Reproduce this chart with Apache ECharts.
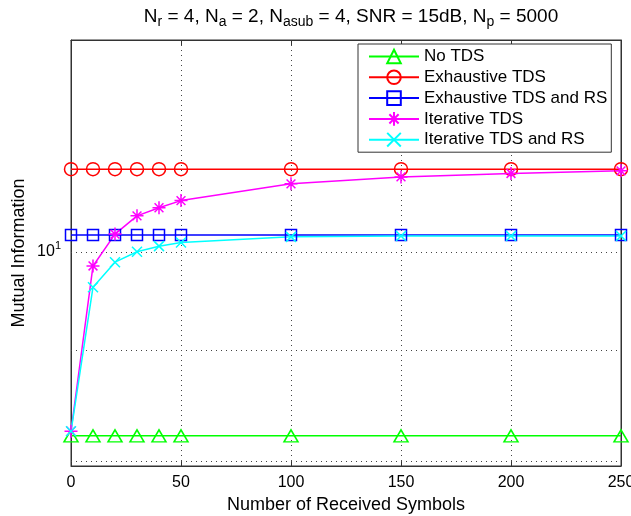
<!DOCTYPE html>
<html>
<head>
<meta charset="utf-8">
<script src="https://cdn.jsdelivr.net/npm/echarts@6/dist/echarts.min.js"></script>
<style>
html,body{margin:0;padding:0;background:#fff;}
#chart{width:631px;height:516px;}
</style>
</head>
<body>
<div id="chart"></div>
<script>
// ---- data ----
const xValues = [0, 10, 20, 30, 40, 50, 100, 150, 200, 250];
const noTDS = [8.22, 8.22, 8.22, 8.22, 8.22, 8.22, 8.22, 8.22, 8.22, 8.22];
const exhaustiveTDS = [10.92, 10.92, 10.92, 10.92, 10.92, 10.92, 10.92, 10.92, 10.92, 10.92];
const exhaustiveTDSRS = [10.18, 10.18, 10.18, 10.18, 10.18, 10.18, 10.18, 10.18, 10.18, 10.18];
const iterativeTDS = [8.26, 9.85, 10.19, 10.39, 10.48, 10.56, 10.75, 10.83, 10.87, 10.90];
const iterativeTDSRS = [8.26, 9.63, 9.89, 10.00, 10.06, 10.10, 10.16, 10.17, 10.17, 10.17];
const seriesNames = ['No TDS', 'Exhaustive TDS', 'Exhaustive TDS and RS', 'Iterative TDS', 'Iterative TDS and RS'];
const yGridValues = [8, 9, 10];
const yLabelValue = 10;
const yMin = 7.96, yMax = 12.53;
const xMin = 0, xMax = 250, xInterval = 50;

const FONT = "'Liberation Sans', Arial, Helvetica, sans-serif";
const asterisk = 'path://M5,0L5,10M0,5L10,5M1.6,1.6L8.4,8.4M8.4,1.6L1.6,8.4';
const cross = 'path://M0,0L10,10M10,0L0,10';

function mk(name, vals, color, symbol, size) {
  return {
    type: 'line', name: name,
    data: xValues.map((x, i) => [x, vals[i]]),
    symbol: symbol, symbolSize: size, showSymbol: true,
    lineStyle: {color: color, width: 1.5},
    itemStyle: {color: 'transparent', borderColor: color, borderWidth: 1.5},
    emphasis: {disabled: true},
    animation: false, z: 2
  };
}

const series = [
  mk(seriesNames[0], noTDS, '#00ff00', 'triangle', [14, 12]),
  mk(seriesNames[1], exhaustiveTDS, '#ff0000', 'circle', 13),
  mk(seriesNames[2], exhaustiveTDSRS, '#0000ff', 'rect', 11),
  mk(seriesNames[3], iterativeTDS, '#ff00ff', asterisk, 13),
  mk(seriesNames[4], iterativeTDSRS, '#00ffff', cross, 10)
];
series[0].markLine = {
  silent: true, symbol: ['none', 'none'], z: 1, animation: false,
  lineStyle: {color: '#444', type: [1, 4], width: 1},
  label: {show: false},
  emphasis: {disabled: true},
  data: yGridValues.map(v => ({
    yAxis: v,
    label: v === yLabelValue ? {
      show: true, position: 'start', distance: 10,
      formatter: '{b|10}{p|1}',
      rich: {
        b: {fontSize: 16, color: '#000', fontFamily: FONT, lineHeight: 22},
        p: {fontSize: 11, color: '#000', fontFamily: FONT, verticalAlign: 'top', lineHeight: 11}
      }
    } : {show: false}
  }))
};

const chart = echarts.init(document.getElementById('chart'), null, {renderer: 'canvas'});
chart.setOption({
  animation: false,
  backgroundColor: '#fff',
  title: {
    text: '{n|N}{s|r}{n| = 4, N}{s|a}{n| = 2, N}{s|asub}{n| = 4, SNR = 15dB, N}{s|p}{n| = 5000}',
    left: 346, top: 0, textAlign: 'center',
    textStyle: {
      fontWeight: 'normal',
      rich: {
        n: {fontSize: 19, fontFamily: FONT, fontWeight: 'normal', color: '#000', lineHeight: 24},
        s: {fontSize: 14, fontFamily: FONT, fontWeight: 'normal', color: '#000', verticalAlign: 'bottom', lineHeight: 14}
      }
    }
  },
  legend: {
    data: seriesNames, orient: 'vertical', left: 358, top: 44,
    padding: [4, 4, 4, 10], itemWidth: 50, itemHeight: 17, itemGap: 3.8,
    backgroundColor: '#fff', borderColor: '#333', borderWidth: 1, borderRadius: 0,
    selectedMode: false,
    textStyle: {fontSize: 17, fontFamily: FONT, color: '#000', lineHeight: 17}
  },
  grid: {left: 71, right: 10, top: 40, bottom: 50, show: true, borderColor: '#333', borderWidth: 1, backgroundColor: '#fff', outerBoundsMode: 'none', containLabel: false},
  xAxis: [{
    type: 'value', min: xMin, max: xMax, interval: xInterval, position: 'bottom',
    axisLine: {show: true, onZero: false, lineStyle: {color: '#333', width: 1}},
    axisTick: {show: true, inside: true, length: 5, lineStyle: {color: '#333'}},
    axisLabel: {fontSize: 16, color: '#000', margin: 9, fontFamily: FONT},
    splitLine: {show: true, lineStyle: {color: '#444', type: [1, 4], width: 1}},
    name: 'Number of Received Symbols', nameLocation: 'middle', nameGap: 25,
    nameTextStyle: {fontSize: 18, color: '#000', fontFamily: FONT}
  }, {
    type: 'value', min: xMin, max: xMax, interval: xInterval, position: 'top',
    axisLine: {show: true, onZero: false, lineStyle: {color: '#333', width: 1}},
    axisTick: {show: true, inside: true, length: 5, lineStyle: {color: '#333'}},
    axisLabel: {show: false}, splitLine: {show: false}
  }],
  yAxis: [{
    type: 'log', logBase: 10, min: yMin, max: yMax, position: 'left',
    axisLine: {show: true, onZero: false, lineStyle: {color: '#333', width: 1}},
    axisTick: {show: false}, axisLabel: {show: false}, splitLine: {show: false},
    name: 'Mutual Information', nameLocation: 'middle', nameGap: 43,
    nameTextStyle: {fontSize: 18, color: '#000', fontFamily: FONT}
  }, {
    type: 'log', logBase: 10, min: yMin, max: yMax, position: 'right',
    axisLine: {show: true, onZero: false, lineStyle: {color: '#333', width: 1}},
    axisTick: {show: false}, axisLabel: {show: false}, splitLine: {show: false}
  }],
  series: series
});
</script>
</body>
</html>
